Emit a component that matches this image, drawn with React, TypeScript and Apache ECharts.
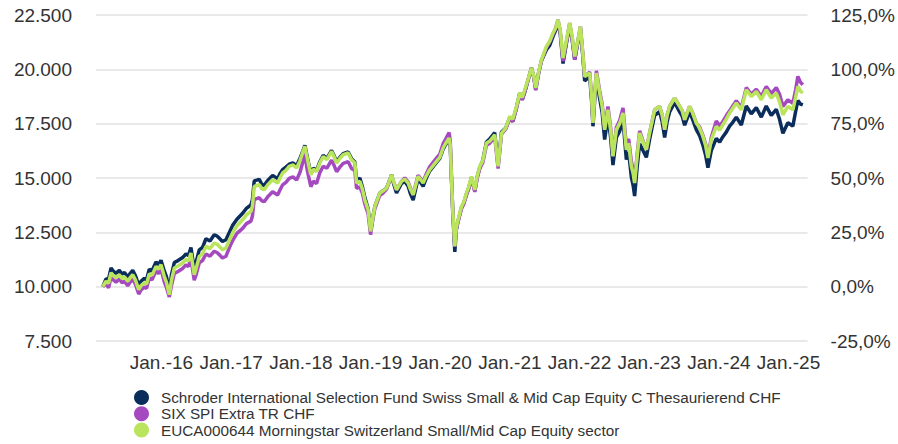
import React, { useEffect, useRef } from "react";
import * as echarts from "echarts";

// Dates as decimal years
const dates: number[] = [
  2015.157, 2015.204, 2015.24, 2015.276, 2015.312, 2015.347, 2015.395, 2015.433, 2015.469, 2015.515,
  2015.548, 2015.587, 2015.627, 2015.673, 2015.706, 2015.753, 2015.785, 2015.825, 2015.864, 2015.921,
  2015.957, 2015.993, 2016.04, 2016.072, 2016.112, 2016.143, 2016.184, 2016.237, 2016.304, 2016.351,
  2016.387, 2016.423, 2016.47, 2016.502, 2016.542, 2016.588, 2016.638, 2016.696, 2016.757, 2016.796,
  2016.829, 2016.875, 2016.925, 2016.975, 2017.021, 2017.083, 2017.165, 2017.219, 2017.284, 2017.305,
  2017.331, 2017.403, 2017.441, 2017.474, 2017.528, 2017.595, 2017.667, 2017.7, 2017.738, 2017.786,
  2017.833, 2017.886, 2017.939, 2017.987, 2018.03, 2018.058, 2018.087, 2018.106, 2018.144, 2018.18,
  2018.226, 2018.273, 2018.321, 2018.374, 2018.441, 2018.474, 2018.513, 2018.56, 2018.608, 2018.679,
  2018.728, 2018.775, 2018.8, 2018.847, 2018.883, 2018.919, 2018.966, 2019.001, 2019.034, 2019.062,
  2019.134, 2019.177, 2019.23, 2019.263, 2019.302, 2019.335, 2019.373, 2019.445, 2019.492, 2019.54,
  2019.571, 2019.612, 2019.683, 2019.755, 2019.801, 2019.851, 2019.947, 2019.995, 2020.042, 2020.081,
  2020.128, 2020.145, 2020.162, 2020.181, 2020.21, 2020.231, 2020.257, 2020.306, 2020.339, 2020.377,
  2020.41, 2020.449, 2020.497, 2020.532, 2020.568, 2020.611, 2020.664, 2020.712, 2020.783, 2020.831,
  2020.88, 2020.941, 2020.999, 2021.042, 2021.095, 2021.142, 2021.178, 2021.214, 2021.257, 2021.31,
  2021.343, 2021.371, 2021.414, 2021.453, 2021.525, 2021.572, 2021.62, 2021.658, 2021.691, 2021.723,
  2021.763, 2021.809, 2021.859, 2021.895, 2021.931, 2021.974, 2022.013, 2022.046, 2022.074, 2022.146,
  2022.172, 2022.193, 2022.218, 2022.242, 2022.289, 2022.325, 2022.361, 2022.408, 2022.447, 2022.48,
  2022.529, 2022.576, 2022.624, 2022.672, 2022.705, 2022.744, 2022.77, 2022.791, 2022.827, 2022.863,
  2022.906, 2022.959, 2023.007, 2023.078, 2023.15, 2023.186, 2023.222, 2023.258, 2023.293, 2023.365,
  2023.437, 2023.473, 2023.509, 2023.58, 2023.623, 2023.676, 2023.724, 2023.771, 2023.81, 2023.843,
  2023.891, 2023.963, 2024.011, 2024.058, 2024.104, 2024.154, 2024.197, 2024.25, 2024.322, 2024.394,
  2024.465, 2024.537, 2024.609, 2024.68, 2024.752, 2024.824, 2024.871, 2024.919, 2024.99, 2025.062,
  2025.101, 2025.134, 2025.172, 2025.205,
];

// Schroder ISF Swiss Small & Mid Cap Equity C (navy)
const fundValues: number[] = [
  10000, 10350, 10350, 10860, 10700, 10610, 10750, 10580, 10650, 10445,
  10600, 10750, 10500, 10060, 10250, 10380, 10320, 10800, 10720, 11135,
  11000, 11210, 10725, 10450, 9780, 10550, 11110, 11200, 11340, 11500,
  11430, 11800, 10800, 11200, 11695, 11800, 12205, 12100, 12390, 12330,
  12235, 12080, 12160, 12500, 12820, 13100, 13380, 13600, 13765, 14000,
  14865, 14940, 14700, 14660, 14900, 15120, 14970, 15200, 15380, 15500,
  15635, 15700, 15560, 15900, 16250, 16505, 16050, 15740, 15200, 15450,
  15350, 15750, 16040, 15900, 16270, 16050, 15740, 15950, 16120, 16200,
  15890, 15740, 14870, 14995, 14600, 14100, 13590, 12545, 13200, 13690,
  14310, 14400, 14540, 14800, 15150, 14700, 14310, 14745, 14850, 14620,
  14300, 13980, 14975, 14620, 15000, 15330, 15715, 15900, 16330, 16550,
  16790, 16450, 14950, 13400, 11605, 12600, 13030, 13640, 13850, 14260,
  14550, 15025, 14410, 15050, 15485, 15800, 16660, 16800, 17090, 15585,
  17120, 17300, 17785, 17600, 18245, 18910, 18600, 18960, 19450, 20060,
  19650, 19090, 19850, 20390, 20905, 21100, 21520, 21800, 22180, 21650,
  20270, 21150, 22030, 21350, 20440, 21200, 21875, 20650, 19470, 19680,
  18600, 17380, 18600, 19630, 18660, 18000, 16770, 17840, 16850, 15595,
  16870, 17150, 17690, 15850, 16200, 15035, 14650, 14170, 15500, 16570,
  16300, 15950, 16800, 17890, 18045, 17600, 16870, 17600, 18045, 18480,
  18045, 17850, 17430, 18045, 17700, 17230, 16950, 16515, 16050, 15470,
  16260, 16825, 16650, 16900, 17100, 17390, 17550, 17800, 17440, 18310,
  17955, 18235, 17800, 18310, 17880, 18160, 17700, 17060, 17545, 17390,
  18050, 18565, 18400, 18360,
];

// SIX SPI Extra TR CHF (purple)
const indexValues: number[] = [
  10000, 10150, 9950, 10440, 10300, 10210, 10350, 10180, 10250, 10045,
  10200, 10350, 10100, 9660, 9850, 9980, 9920, 10400, 10320, 10735,
  10600, 10810, 10225, 9950, 9530, 10050, 10610, 10700, 10840, 11000,
  10930, 11300, 10300, 10600, 11095, 11200, 11505, 11400, 11630, 11570,
  11475, 11320, 11400, 11800, 12120, 12450, 12680, 12900, 13015, 13250,
  14015, 14090, 13950, 13910, 14150, 14370, 14220, 14450, 14680, 14800,
  14985, 15050, 14910, 15250, 15750, 16155, 15450, 15140, 14600, 14850,
  14750, 15250, 15540, 15450, 15820, 15600, 15290, 15500, 15670, 15750,
  15440, 15340, 14520, 14595, 14300, 13800, 13340, 12395, 13100, 13590,
  14210, 14300, 14490, 14750, 15100, 14800, 14460, 14845, 15000, 14820,
  14550, 14230, 15125, 14820, 15200, 15530, 15915, 16100, 16580, 16800,
  17090, 16700, 15050, 13500, 11855, 12650, 12980, 13590, 13800, 14210,
  14500, 14975, 14360, 15000, 15435, 15700, 16510, 16600, 16890, 15435,
  17020, 17250, 17735, 17600, 18195, 18860, 18600, 18960, 19450, 20060,
  19650, 19040, 19850, 20390, 21005, 21250, 21620, 21900, 22280, 21750,
  20370, 21200, 22130, 21400, 20440, 21250, 21975, 20750, 19670, 19880,
  18800, 17530, 18850, 19930, 19010, 18400, 17320, 18290, 17300, 16045,
  17320, 17650, 18220, 16450, 16800, 15765, 15350, 14870, 16100, 17170,
  16750, 16300, 17100, 18140, 18295, 17900, 17220, 17900, 18295, 18680,
  18295, 18100, 17680, 18295, 18000, 17530, 17350, 16965, 16550, 15970,
  16860, 17625, 17400, 17600, 17850, 18090, 18300, 18550, 18240, 19160,
  18855, 19085, 18750, 19210, 18880, 19160, 18850, 18290, 18595, 18440,
  19050, 19675, 19400, 19290,
];

// EUCA000644 Morningstar Switzerland Small/Mid Cap Equity sector (lime)
const sectorValues: number[] = [
  10000, 10250, 10150, 10640, 10500, 10410, 10550, 10380, 10450, 10245,
  10400, 10550, 10300, 9860, 10050, 10180, 10120, 10600, 10520, 10935,
  10800, 11010, 10475, 10200, 9630, 10300, 10860, 10950, 11090, 11250,
  11180, 11550, 10550, 10900, 11395, 11500, 11855, 11750, 12010, 11950,
  11855, 11700, 11780, 12150, 12470, 12800, 13080, 13300, 13465, 13700,
  14615, 14690, 14500, 14460, 14700, 14920, 14770, 15000, 15230, 15350,
  15535, 15600, 15460, 15800, 16200, 16455, 16000, 15690, 15150, 15400,
  15300, 15700, 15990, 15850, 16220, 16000, 15690, 15900, 16070, 16150,
  15840, 15690, 14770, 14845, 14500, 14000, 13540, 12545, 13200, 13690,
  14310, 14400, 14540, 14800, 15150, 14800, 14460, 14845, 14950, 14770,
  14500, 14230, 15075, 14770, 15100, 15380, 15765, 15950, 16380, 16600,
  16840, 16500, 15000, 13500, 11855, 12700, 13080, 13690, 13900, 14310,
  14600, 15075, 14460, 15100, 15535, 15800, 16610, 16700, 16990, 15535,
  17070, 17300, 17835, 17700, 18295, 18910, 18700, 19060, 19500, 20060,
  19700, 19140, 19900, 20440, 21055, 21300, 21670, 21900, 22280, 21800,
  20520, 21300, 22130, 21500, 20590, 21300, 21975, 20800, 19670, 19830,
  18800, 17530, 18800, 19830, 18910, 18300, 17220, 18140, 17200, 15995,
  17220, 17500, 17990, 16300, 16600, 15535, 15200, 14770, 16000, 17070,
  16700, 16300, 17100, 18140, 18295, 17900, 17220, 17900, 18295, 18680,
  18295, 18100, 17680, 18295, 18000, 17530, 17300, 16915, 16500, 15920,
  16760, 17375, 17200, 17450, 17700, 17990, 18200, 18450, 18140, 19060,
  18755, 18985, 18600, 19060, 18680, 18910, 18500, 17910, 18295, 18140,
  18700, 19215, 19000, 18910,
];

const seriesNames: string[] = [
  "Schroder International Selection Fund Swiss Small & Mid Cap Equity C Thesaurierend CHF",
  "SIX SPI Extra TR CHF",
  "EUCA000644 Morningstar Switzerland Small/Mid Cap Equity sector",
];
const seriesColors: string[] = ["#0a2d5c", "#a549c0", "#b9e45c"];

const xTickYears: number[] = [2016, 2017, 2018, 2019, 2020, 2021, 2022, 2023, 2024, 2025];
const xTickLabels: string[] = [
  "Jan.-16", "Jan.-17", "Jan.-18", "Jan.-19", "Jan.-20",
  "Jan.-21", "Jan.-22", "Jan.-23", "Jan.-24", "Jan.-25",
];

const FONT = '"Liberation Sans", Arial, sans-serif';

export default function App() {
  const ref = useRef<HTMLDivElement>(null);

  useEffect(() => {
    if (!ref.current) return;
    const chart = echarts.init(ref.current, undefined, { renderer: "svg" });
    const allSeries = [fundValues, indexValues, sectorValues];
    chart.setOption({
      animation: false,
      textStyle: { fontFamily: FONT },
      grid: { left: 96, right: 90, top: 15, bottom: 103, containLabel: false },
      legend: {
        orient: "vertical",
        left: 134,
        top: 390,
        height: 54,
        padding: 0,
        itemWidth: 29,
        itemHeight: 15,
        itemGap: 1.3,
        icon: "circle",
        textStyle: { fontSize: 15.3, color: "#333333", fontFamily: FONT, lineHeight: 15 },
        data: seriesNames,
      },
      xAxis: {
        type: "value",
        min: 2015.06,
        max: 2025.273,
        axisLine: { show: false },
        axisTick: { show: false },
        splitLine: { show: false },
        axisLabel: {
          customValues: xTickYears,
          margin: 12,
          fontSize: 19,
          color: "#333333",
          fontFamily: FONT,
          formatter: (v: number) => {
            const i = xTickYears.indexOf(Math.round(v));
            return i >= 0 ? xTickLabels[i] : "";
          },
        },
      },
      yAxis: [
        {
          type: "value",
          min: 7500,
          max: 22500,
          interval: 2500,
          position: "left",
          axisLine: { show: false },
          axisTick: { show: false },
          splitLine: { lineStyle: { color: "#e2e2e2", width: 1.5 } },
          axisLabel: {
            margin: 24,
            fontSize: 19,
            color: "#333333",
            fontFamily: FONT,
            padding: [6, 0, 0, 0],
            formatter: (v: number) => String(v).replace(/\B(?=(\d{3})+(?!\d))/g, "."),
          },
        },
        {
          type: "value",
          min: -25,
          max: 125,
          interval: 25,
          position: "right",
          axisLine: { show: false },
          axisTick: { show: false },
          splitLine: { show: false },
          axisLabel: {
            margin: 23,
            fontSize: 19,
            color: "#333333",
            fontFamily: FONT,
            padding: [6, 0, 0, 0],
            formatter: (v: number) => v.toFixed(1).replace(".", ",") + "%",
          },
        },
      ],
      series: seriesNames.map((name, k) => ({
        name,
        type: "line",
        yAxisIndex: 0,
        showSymbol: false,
        symbol: "none",
        smooth: false,
        color: seriesColors[k],
        lineStyle: { width: 3.5, color: seriesColors[k] },
        data: dates.map((d, i) => [d, allSeries[k][i]]),
        z: 2 + k,
      })),
    });
    return () => chart.dispose();
  }, []);

  return (
    <div
      ref={ref}
      style={{ position: "fixed", left: 0, top: 0, width: 898, height: 444, background: "#ffffff" }}
    />
  );
}
